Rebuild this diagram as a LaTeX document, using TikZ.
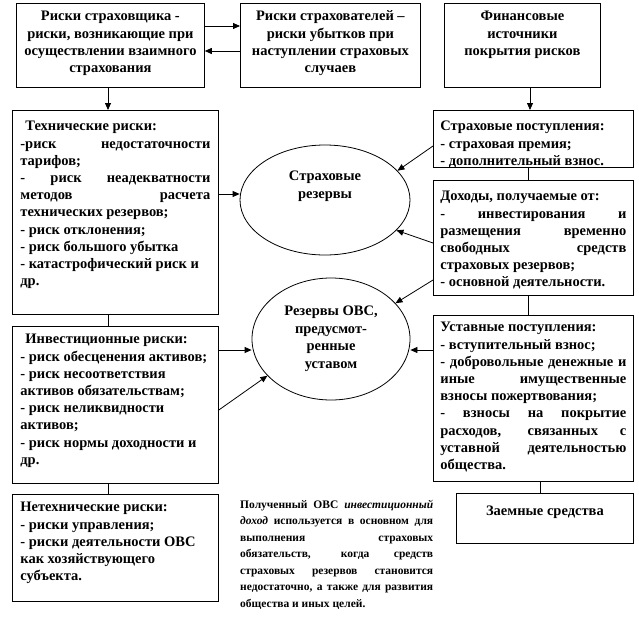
\documentclass[tikz,border=0pt]{standalone}
\usepackage{fontspec}
\setmainfont{Liberation Serif}
\usetikzlibrary{arrows.meta,shapes.geometric}

\newcommand\Ls[1]{\makebox[\linewidth][s]{\strut#1}\par}
\newcommand\Ll[1]{\makebox[\linewidth][l]{\strut#1}\par}
\newcommand\Lc[1]{\makebox[\linewidth][c]{\strut#1}\par}
\newcommand\Btxt[4]{\parbox[c][#2][t]{#1}{\parskip=0pt\parindent=0pt\vspace*{#3}#4}}

\tikzset{
  box/.style={draw, line width=0.8pt, inner xsep=8pt, inner ysep=0pt, anchor=north west,
    font=\fontsize{14.5}{17.2}\selectfont\bfseries},
  rbox/.style={box, inner xsep=7pt},
  ell/.style={draw, ellipse, line width=0.8pt, inner sep=0pt},
  etxt/.style={align=center, inner sep=0pt, font=\fontsize{14.5}{17.5}\selectfont\bfseries},
  note/.style={anchor=north west, inner sep=0pt, font=\fontsize{11.5}{16.5}\selectfont\bfseries},
  arr/.style={line width=0.8pt, -{Triangle[length=7pt,width=6pt]}},
  ln/.style={line width=0.8pt}
}

\begin{document}
\begin{tikzpicture}[x=1pt,y=-1pt]
\fill[white] (0,0) rectangle (639,618);
\useasboundingbox (0,0) rectangle (639,618);

% top row
\node[box] (box1) at (16,3) {\Btxt{172pt}{84pt}{5.5pt}{%
  \Lc{Риски страховщика -}
  \Lc{риски, возникающие при}
  \Lc{осуществлении взаимного}
  \Lc{страхования}}};
\node[box] (box2) at (240,3) {\Btxt{164pt}{84pt}{5.5pt}{%
  \Lc{Риски страхователей –}
  \Lc{риски убытков при}
  \Lc{наступлении страховых}
  \Lc{случаев}}};
\node[box] (box3) at (444,3) {\Btxt{140pt}{84pt}{5.5pt}{%
  \Lc{Финансовые}
  \Lc{источники}
  \Lc{покрытия рисков}}};

% left column
\node[box] (tech) at (12,110) {\Btxt{190pt}{204pt}{8.5pt}{%
  \Ll{\hspace*{5pt}Технические риски:}
  \Ls{-риск недостаточности}
  \Ll{тарифов;}
  \Ls{- риск неадекватности}
  \Ls{методов расчета}
  \Ll{технических резервов;}
  \Ll{- риск отклонения;}
  \Ll{- риск большого убытка}
  \Ll{- катастрофический риск и}
  \Ll{др.}}};
\node[box] (inv) at (12,326) {\Btxt{190pt}{157pt}{5.5pt}{%
  \Ll{\hspace*{5pt}Инвестиционные риски:}
  \Ll{- риск обесценения активов;}
  \Ll{- риск несоответствия}
  \Ll{активов обязательствам;}
  \Ll{- риск неликвидности}
  \Ll{активов;}
  \Ll{- риск нормы доходности и}
  \Ll{др.}}};
\node[box] (nontech) at (12,494) {\Btxt{190pt}{107pt}{5.5pt}{%
  \Ll{Нетехнические риски:}
  \Ll{- риски управления;}
  \Ll{- риски деятельности ОВС}
  \Ll{как хозяйствующего}
  \Ll{субъекта.}}};

% right column
\node[rbox] (box5) at (433,110) {\Btxt{186pt}{57pt}{8.5pt}{%
  \Ll{Страховые поступления:}
  \Ll{- страховая премия;}
  \Ll{- дополнительный взнос.}}};
\node[rbox] (box6) at (433,180) {\Btxt{186pt}{115pt}{8.5pt}{%
  \Ll{Доходы, получаемые от:}
  \Ls{- инвестирования и}
  \Ls{размещения временно}
  \Ls{свободных средств}
  \Ll{страховых резервов;}
  \Ll{- основной деятельности.}}};
\node[rbox] (box7) at (433,315) {\Btxt{186pt}{166pt}{4.5pt}{%
  \Ll{Уставные поступления:}
  \Ll{- вступительный взнос;}
  \Ls{- добровольные денежные и}
  \Ls{иные имущественные}
  \Ll{взносы пожертвования;}
  \Ls{- взносы на покрытие}
  \Ls{расходов, связанных с}
  \Ls{уставной деятельностью}
  \Ll{общества.}}};
\node[box] (box8) at (456,493) {\Btxt{161pt}{50pt}{10.5pt}{%
  \Lc{Заемные средства}}};

% ellipses
\node[ell, minimum width=170pt, minimum height=110pt] (sr) at (325,200) {};
\node[etxt] (srt) at (325,186) {Страховые\\резервы};
\node[ell, etxt, minimum width=158pt, minimum height=122pt] (ovs) at (331,339)
  {Резервы ОВС,\\предусмот-\\ренные\\уставом};

% note
\node[note] (note) at (240,496.5) {\parbox[t]{193pt}{\parskip=0pt\parindent=0pt%
  \Ls{Полученный ОВС \textit{инвестиционный}}
  \Ls{\textit{доход} используется в основном для}
  \Ls{выполнения страховых}
  \Ls{обязательств, когда средств}
  \Ls{страховых резервов становится}
  \Ls{недостаточно, а также для развития}
  \Ll{общества и иных целей.}}};

% connectors
\draw[arr] (box1.east |- 0,26) -- (box2.west |- 0,26);
\draw[arr] (box2.west |- 0,51) -- (box1.east |- 0,51);
\draw[arr] (box1.south -| 108,0) -- (tech.north -| 108,0);
\draw[arr] (box3.south -| 530,0) -- (box5.north -| 530,0);
\draw[arr] (tech.east |- 0,194) -- (sr.west |- 0,194);
\draw[arr] (box5.west |- 0,146) -- (sr.22);
\draw[arr] (box6.west |- 0,243) -- (sr.-23);
\draw[arr] (box6.west |- 0,280) -- (ovs.29);
\draw[arr] (box7.west |- 0,350) -- (ovs.east |- 0,350);
\draw[arr] (inv.east |- 0,350) -- (ovs.west |- 0,350);
\draw[arr] (inv.east |- 0,410) -- (ovs.210);
\draw[ln] (tech.south -| 108,0) -- (inv.north -| 108,0);
\draw[ln] (inv.south -| 108,0) -- (nontech.north -| 108,0);
\draw[ln] (box5.south -| 528,0) -- (box6.north -| 528,0);
\draw[ln] (box6.south -| 528,0) -- (box7.north -| 528,0);
\draw[ln] (box7.south -| 540,0) -- (box8.north -| 540,0);
\end{tikzpicture}
\end{document}
